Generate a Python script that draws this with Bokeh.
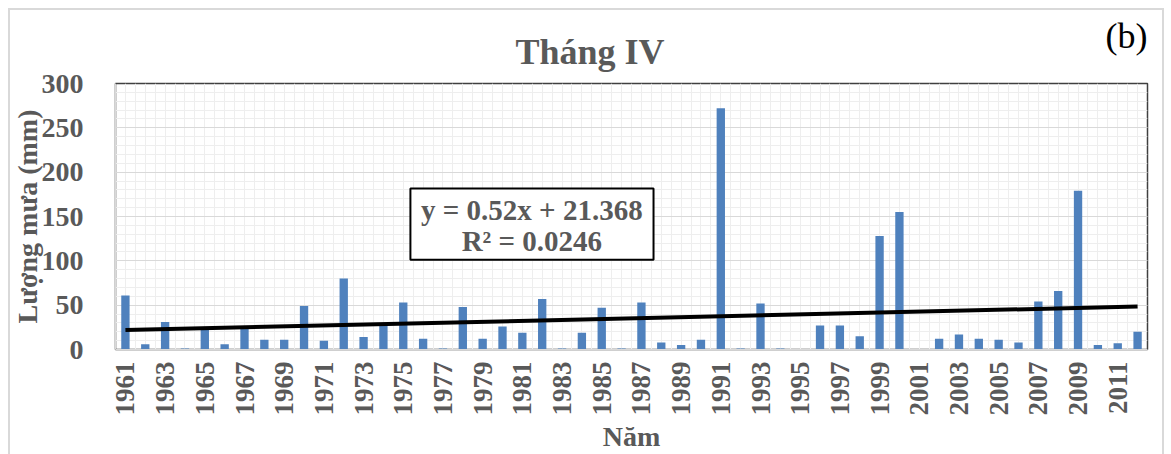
from bokeh.plotting import figure
from bokeh.models import (ColumnDataSource, FixedTicker, SingleIntervalTicker,
                          Title, Range1d)
from bokeh.embed import file_html
from bokeh.resources import INLINE
from bokeh.core.properties import value
import math

# April rainfall (mm), 1961-2012
years = list(range(1961, 2013))
rain = [61, 6, 31, 1, 22, 6, 23, 11, 11, 49,
        10, 80, 14, 27, 53, 12, 1, 48, 12, 26,
        19, 57, 1, 19, 47, 1, 53, 8, 5, 11,
        272, 1, 52, 1, 0, 27, 27, 15, 128, 155,
        0, 12, 17, 12, 11, 8, 54, 66, 179, 5,
        7, 20]

# Linear trend over the series index (1..n)
slope = 0.52
intercept = 21.368
r_squared = 0.0246
trend_x = [years[0], years[-1]]
trend_y = [slope * 1 + intercept, slope * len(years) + intercept]

x_ticks = [y for y in years if (y - 1961) % 2 == 0]

title_text = "Tháng IV"
panel_tag = "(b)"
x_title = "Năm"
y_title = "Lượng mưa (mm)"
eq_line1 = f"y = {slope}x + {intercept}"
eq_line2 = f"R² = {r_squared}"

SERIF = "Liberation Serif"
GREY = "#595959"

# light chart border drawn as CSS background behind a transparent canvas margin
edge = "linear-gradient(#d9d9d9, #d9d9d9)"
chart_bg = (f"{edge} 8px 8px / 2px 460px no-repeat, "
            f"{edge} 8px 8px / 1156px 2px no-repeat, "
            f"{edge} 1162px 8px / 2px 460px no-repeat, white")

p = figure(width=1171, height=454, output_backend="svg", toolbar_location=None,
           x_range=Range1d(years[0] - 0.5, years[-1] + 0.5),
           y_range=Range1d(0, 300),
           min_border_left=115, min_border_right=24,
           min_border_top=83, min_border_bottom=98,
           styles={"background": chart_bg})

p.background_fill_color = "white"
p.border_fill_color = None
p.outline_line_color = "#404040"
p.outline_line_width = 1.5

# Chart title (nearest the frame)
p.add_layout(Title(text=title_text, align="left", offset=400, standoff=23,
                   text_font=SERIF, text_font_size="36px",
                   text_font_style="bold", text_color=GREY), "above")

# Panel tag, top right
p.title.text = panel_tag
p.title.text_font = SERIF
p.title.text_font_size = "36px"
p.title.text_font_style = "normal"
p.title.text_color = "black"
p.title.align = "right"
p.title.offset = 0
p.title.standoff = -75

# Grids
p.yaxis.ticker = SingleIntervalTicker(interval=50, num_minor_ticks=5)
p.ygrid.grid_line_color = "#d9d9d9"
p.ygrid.grid_line_width = 1.2
p.ygrid.minor_grid_line_color = "#eeeeee"
p.ygrid.minor_grid_line_width = 1
grid_pos = [years[0] - 0.5 + 0.5 * i for i in range(2 * len(years) + 1)]
p.xgrid.ticker = FixedTicker(ticks=grid_pos)
p.xgrid.grid_line_color = "#eeeeee"
p.xgrid.grid_line_width = 1

# Axes
p.xaxis.ticker = FixedTicker(ticks=x_ticks)
p.xaxis.major_label_orientation = math.pi / 2
for ax in (p.xaxis, p.yaxis):
    ax.major_tick_line_color = None
    ax.minor_tick_line_color = None
    ax.axis_line_color = "#d9d9d9"
    ax.major_label_text_font = SERIF
    ax.major_label_text_font_style = "bold"
    ax.major_label_text_color = GREY
    ax.axis_label_text_font = SERIF
    ax.axis_label_text_font_style = "bold"
    ax.axis_label_text_color = GREY
    ax.axis_label_text_font_size = "28px"
p.xaxis.major_label_text_font_size = "27px"
p.yaxis.major_label_text_font_size = "28px"
p.xaxis.major_label_standoff = 6
p.yaxis.major_label_standoff = 26
p.xaxis.axis_label = x_title
p.yaxis.axis_label = y_title
p.xaxis.axis_label_standoff = 2
p.yaxis.axis_label_standoff = -4

# Bars
src = ColumnDataSource(dict(year=years, rain=rain))
p.vbar(x="year", top="rain", width=0.42, bottom=0, source=src,
       fill_color="#4f81bd", line_color=None)

# Trend line
p.line(trend_x, trend_y, line_color="black", line_width=4)

# Equation box with the trend formula
p.quad(left=[1975.36], right=[1987.61], bottom=[101.3], top=[181.6],
       fill_color="white", line_color="black", line_width=2)
p.text(x=[1981.48, 1981.48], y=[157.4, 122.2], text=[eq_line1, eq_line2],
       text_font=value(SERIF), text_font_style="bold", text_font_size="29px",
       text_color=GREY, text_align="center", text_baseline="middle")

open("out.html", "w").write(file_html(p, INLINE))
